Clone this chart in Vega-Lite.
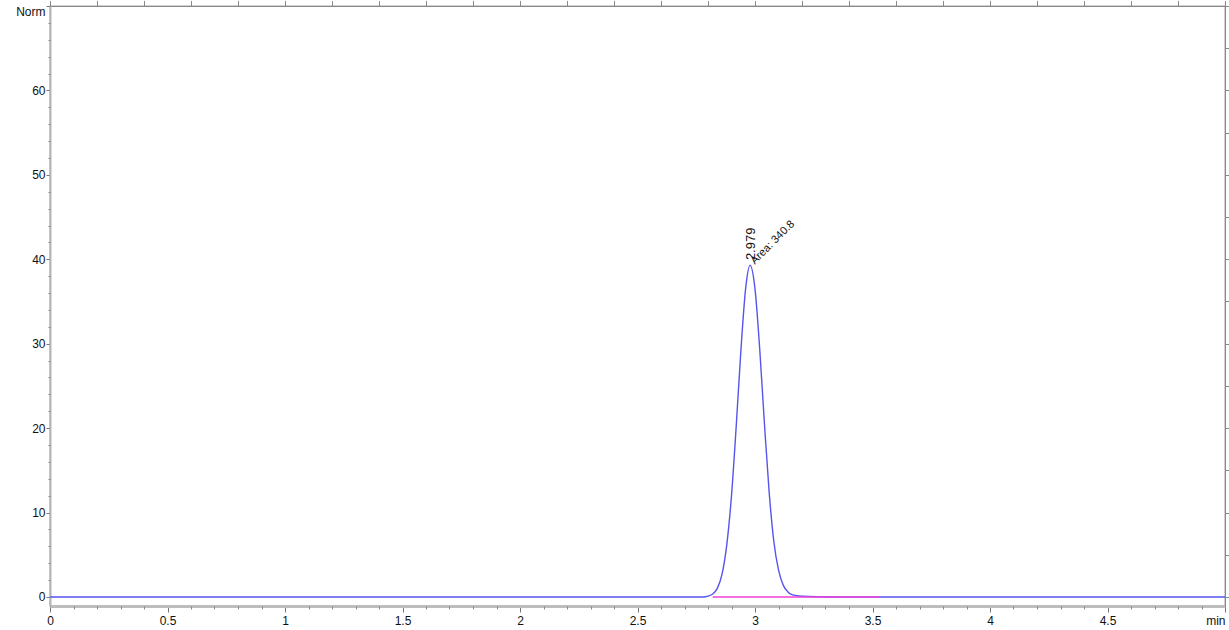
{
  "$schema": "https://vega.github.io/schema/vega-lite/v6.json",
  "width": 1175,
  "height": 600,
  "autosize": {"type": "none"},
  "padding": {"left": 50, "top": 6, "right": 4, "bottom": 24},
  "background": "white",
  "config": {
    "aria": false,
    "view": {"stroke": "#c4c4c4", "strokeWidth": 1.5},
    "axis": {"grid": false, "labelFont": "Liberation Sans Narrow, Liberation Sans, sans-serif", "labelFontSize": 12, "labelColor": "#111"}
  },
  "datasets": {
    "signal": [
      {"t": 0, "v": 0}, {"t": 0.5, "v": 0}, {"t": 1.0, "v": 0}, {"t": 1.5, "v": 0}, {"t": 2.0, "v": 0}, {"t": 2.5, "v": 0},
      {"t": 2.78, "v": 0}, {"t": 2.8, "v": 0.1}, {"t": 2.82, "v": 0.35}, {"t": 2.84, "v": 1.05}, {"t": 2.86, "v": 2.74},
      {"t": 2.88, "v": 6.2}, {"t": 2.9, "v": 12.0}, {"t": 2.92, "v": 20.2}, {"t": 2.94, "v": 29.2}, {"t": 2.96, "v": 36.5},
      {"t": 2.979, "v": 39.3}, {"t": 3.0, "v": 36.5}, {"t": 3.02, "v": 29.4}, {"t": 3.04, "v": 20.6}, {"t": 3.06, "v": 12.5},
      {"t": 3.08, "v": 6.6}, {"t": 3.1, "v": 3.2}, {"t": 3.12, "v": 1.4}, {"t": 3.14, "v": 0.6}, {"t": 3.16, "v": 0.25},
      {"t": 3.2, "v": 0.08}, {"t": 3.26, "v": 0.02}, {"t": 3.4, "v": 0}, {"t": 4.0, "v": 0}, {"t": 4.5, "v": 0}, {"t": 5.0, "v": 0}
    ],
    "baseline": [{"t": 2.82, "v": 0}, {"t": 3.53, "v": 0}],
    "labels": [
      {"t": 2.982, "v": 39.9, "label": "2.979", "kind": "rt"},
      {"t": 2.99, "v": 39.6, "label": "Area: 340.8", "kind": "area"}
    ]
  },
  "layer": [
    {
      "data": {"name": "signal"},
      "mark": {"type": "line", "color": "#5555ee", "strokeWidth": 1.4, "interpolate": "monotone", "clip": true},
      "encoding": {
        "x": {"field": "t", "type": "quantitative", "scale": {"domain": [0, 5], "nice": false, "zero": false},
          "axis": {"orient": "bottom", "title": null, "values": [0, 0.5, 1, 1.5, 2, 2.5, 3, 3.5, 4, 4.5, 5],
            "labelExpr": "datum.value == 5 ? 'min' : format(datum.value, '~g')",
            "labelAlign": {"condition": {"test": "datum.value == 5", "value": "right"}, "value": "center"},
            "tickSize": 6, "tickColor": "#777", "tickWidth": 1, "domainColor": "#bdbdbd", "domainWidth": 3,
            "labelPadding": 3, "labelFlush": false, "labelOverlap": false}},
        "y": {"field": "v", "type": "quantitative", "scale": {"domain": [-1.07, 70], "nice": false, "zero": false},
          "axis": {"orient": "left", "title": null, "values": [0, 10, 20, 30, 40, 50, 60, 70],
            "labelExpr": "datum.value == 70 ? 'Norm' : format(datum.value, '~g')",
            "labelBaseline": {"condition": {"test": "datum.value == 70", "value": "top"}, "value": "middle"},
            "tickSize": 4, "tickColor": "#777", "domainColor": "#b5b5b5", "domainWidth": 2, "labelPadding": 1,
            "labelOverlap": false, "labelFlush": false}}
      }
    },
    {
      "data": {"name": "baseline"},
      "mark": {"type": "line", "color": "#f040d8", "strokeWidth": 1.5},
      "encoding": {
        "x": {"field": "t", "type": "quantitative"},
        "y": {"field": "v", "type": "quantitative"}
      }
    },
    {
      "data": {"name": "baseline"},
      "mark": {"type": "point", "opacity": 0},
      "encoding": {
        "x": {"field": "t", "type": "quantitative",
          "axis": {"orient": "bottom", "title": null, "labels": false, "domain": false, "tickSize": 3, "tickColor": "#888",
            "values": [0.1, 0.2, 0.3, 0.4, 0.6, 0.7, 0.8, 0.9, 1.1, 1.2, 1.3, 1.4, 1.6, 1.7, 1.8, 1.9, 2.1, 2.2, 2.3, 2.4, 2.6, 2.7, 2.8, 2.9, 3.1, 3.2, 3.3, 3.4, 3.6, 3.7, 3.8, 3.9, 4.1, 4.2, 4.3, 4.4, 4.6, 4.7, 4.8, 4.9]}},
        "y": {"field": "v", "type": "quantitative",
          "axis": {"orient": "left", "title": null, "labels": false, "domain": false, "tickSize": 2, "tickColor": "#888",
            "values": [2, 4, 6, 8, 12, 14, 16, 18, 22, 24, 26, 28, 32, 34, 36, 38, 42, 44, 46, 48, 52, 54, 56, 58, 62, 64, 66, 68]}}
      }
    },
    {
      "data": {"name": "labels"},
      "transform": [{"filter": "datum.kind == 'rt'"}],
      "mark": {"type": "text", "angle": -90, "align": "left", "baseline": "middle", "fontSize": 13, "font": "Liberation Sans Narrow, Liberation Sans, sans-serif", "color": "#111"},
      "encoding": {
        "x": {"field": "t", "type": "quantitative"},
        "y": {"field": "v", "type": "quantitative"},
        "text": {"field": "label"}
      }
    },
    {
      "data": {"name": "labels"},
      "transform": [{"filter": "datum.kind == 'area'"}],
      "mark": {"type": "text", "angle": -45, "align": "left", "baseline": "middle", "fontSize": 11, "font": "Liberation Sans Narrow, Liberation Sans, sans-serif", "color": "#111"},
      "encoding": {
        "x": {"field": "t", "type": "quantitative"},
        "y": {"field": "v", "type": "quantitative"},
        "text": {"field": "label"}
      }
    }
  ],
  "resolve": {"axis": {"x": "independent", "y": "independent"}}
}
